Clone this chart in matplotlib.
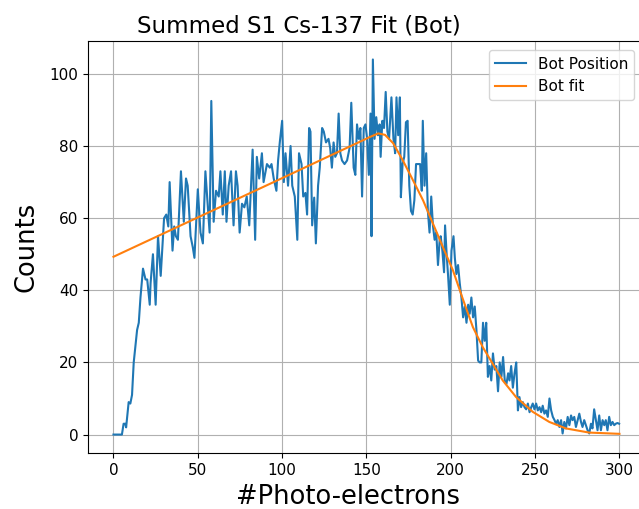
#!/usr/bin/env python
"""
Summed S1 Cs-137 spectrum (bottom position) with the fitted model on top.
"""
from matplotlib import pyplot as plt

pe = [0, 2, 4, 5, 6, 7, 7.5, 9, 10, 11, 12, 14, 15, 16, 17.5, 19, 20, 21.5, 22, 23.4,
      25, 26.4, 28, 30, 31.3, 32.5, 33.3, 35, 36, 37, 38.2, 40, 41.7, 43, 44, 45.7,
      47, 48, 50, 51.6, 53, 54.5, 57, 58, 59.4, 60.8, 62.4, 63.4, 64.8, 66, 67, 68.3,
      69.7, 71.2, 72.6, 73.6, 74.8, 76.2, 77.6, 79, 80.5, 82.5, 84, 85, 86.4, 88, 89,
      91, 92.7, 93.7, 95, 96.6, 97.6, 98.6, 100, 101, 102, 103.5, 105, 106, 107.5,
      109, 110, 111.5, 112.5, 113.8, 114.8, 116, 116.8, 117.8, 119, 120, 121.3, 122.3,
      123.7, 124.7, 126, 127.5, 128.5, 129.5, 130.5, 131.5, 132.5, 133.5, 134.5, 135.5,
      137, 138.5, 140, 141, 142.4, 143.4, 144.4, 145.4, 146.4, 147.4, 148.4, 149.4,
      150.4, 151.4, 152.4, 153, 153.8, 154.8, 155.8, 156.8, 157.8, 158.4, 159.4, 160.4,
      161.4, 162.4, 163.4, 164.8, 166, 167, 167.8, 168.8, 169.8, 170.4, 171.4, 172.4,
      173.4, 174.4, 175.4, 176.4, 177.4, 178.4, 179.4, 180.4, 181.8, 182.8, 183.4,
      184.4, 185.4, 186.4, 187.4, 188.4, 189.4, 190.4, 191.4, 192.4, 193.4, 194, 195,
      196, 196.6, 197.6, 198.4, 199.4, 200.4, 201.6, 202.4, 203.3, 204.3, 205.3, 206.3,
      207.3, 208.3, 209.3, 210.3, 211.2, 212.2, 213.2, 214.2, 215.2, 216.2, 217.1,
      218.1, 219.1, 220.1, 221, 222, 223, 224, 225, 226, 227, 228, 229, 230, 231, 232,
      233, 234, 234.8, 235.8, 236.8, 237.8, 238.8, 239.8, 240.7, 241.7, 242.7, 243.7,
      244.7, 245.7, 246.7, 247.7, 248.6, 249.6, 250.6, 251.6, 252.6, 253.6, 254.5,
      255.5, 256.5, 257.5, 258.5, 259.5, 260.5, 261.5, 262.4, 263.4, 264.4, 265.4,
      266.3, 267.3, 268.3, 269.3, 270.3, 271.3, 272.2, 273.2, 274.2, 275.2, 276.2,
      277.2, 278.1, 279.1, 280.1, 281.1, 282.1, 283.1, 284, 285, 286, 287, 288, 289,
      290, 291, 291.9, 292.9, 293.9, 294.9, 295.9, 296.9, 297.8, 298.8, 299.8]
counts = [0, 0, 0, 0, 3, 3, 2, 9, 8.6, 11, 20, 29, 31, 38, 46, 43, 43, 36, 42, 50,
          36, 55, 44, 60, 61, 57.7, 70, 51, 57.7, 55, 54, 73, 59, 71, 69, 55,
          52, 49, 68, 56, 53, 73, 56, 92.5, 59, 67.6, 66, 73, 61, 73, 59, 69,
          73, 58, 73, 69, 56, 64, 63, 66, 58, 79, 54, 77, 71, 78, 70,
          75, 74, 75, 71, 67.6, 76, 81, 87, 70, 78, 69, 80, 69, 66,
          54, 78, 75, 66, 67, 61, 85, 84, 58, 65.7, 53, 69, 74,
          85, 84, 81, 82, 79.4, 74, 81, 77, 78, 89, 78, 76,
          75, 76, 79.5, 92, 74, 72, 86, 82, 85, 66, 85, 86,
          82, 72, 89, 55, 104, 82, 88, 83, 86, 77, 87, 85,
          95, 84, 82, 93.5, 82, 78, 93.5, 83, 93.5, 65.8, 75, 77,
          86.6, 87, 69, 62, 61, 65, 75, 75, 75, 67.6, 87,
          69, 78, 62, 56, 66, 58, 54, 56, 47, 54, 55, 51,
          45, 58, 49.5, 44, 36, 51, 55, 49, 44.5, 47, 42, 38,
          32.5, 35.5, 31, 36, 33.5, 38, 32.5, 35.5, 29, 20.5, 20,
          20, 31, 26, 31, 16, 19, 15, 22.5, 18, 19, 12, 20, 16, 21.5, 15,
          14, 17, 15, 19, 13, 17, 20, 6.7, 10.4, 7.6, 9, 7.6,
          7, 8.6, 6.2, 7.6, 8.6, 7, 8.6, 6.7, 7.6, 6.2, 8,
          5.8, 6.7, 4.9, 10, 6.7, 4.9, 4, 3, 4, 2.1, 4,
          0.3, 3.5, 1.7, 4.9, 2.6, 5.3, 4, 4.9, 2.1, 4, 5.8,
          3.5, 2.1, 4, 2.6, 1.2, 0.3, 3, 1.7, 7, 4, 1.2, 5.3, 1.2,
          4, 2.6, 4, 1.2, 4.9, 2.6, 3.5, 2.6, 3, 3.2, 3]

# fitted curve
fit_pe = [0, 50, 100, 146.6, 152, 157, 161, 165.8, 171.7, 177.7, 183.6, 189.5,
          195.4, 201.3, 207.2, 213.1, 219, 224.9, 230.8, 238.7, 248.6, 258.4,
          268.3, 282, 300]
fit_counts = [49.3, 60.2, 71.1, 81.3, 82.5, 83.5, 83.1, 80.8, 75.9, 70.4, 64.9,
              58.4, 51.9, 45.5, 37.5, 29.8, 24.2, 19.6, 15, 10.4, 6.3, 3.5, 1.7,
              0.55, 0.2]

fig = plt.figure(figsize=(6.39, 5.09), dpi=100)
ax = fig.add_axes([0.138, 0.1094, 0.871, 0.8106])

ax.plot(pe, counts, label="Bot Position")
ax.plot(fit_pe, fit_counts, label="Bot fit")

ax.set_title("Summed S1 Cs-137 Fit (Bot)", fontsize=16.5, x=0.378)
ax.set_xlabel("#Photo-electrons", fontsize=18.5)
ax.set_ylabel("Counts", fontsize=18.5, labelpad=7)
ax.xaxis.set_label_coords(0.4665, -0.075)
ax.tick_params(labelsize=11)
ax.grid(True)

# legend sits against the visible edge of the picture, not the axes edge
ax.legend(loc="upper right", bbox_to_anchor=(0.995, 0.995), fontsize=11)

fig.savefig("out.png", dpi=100)
